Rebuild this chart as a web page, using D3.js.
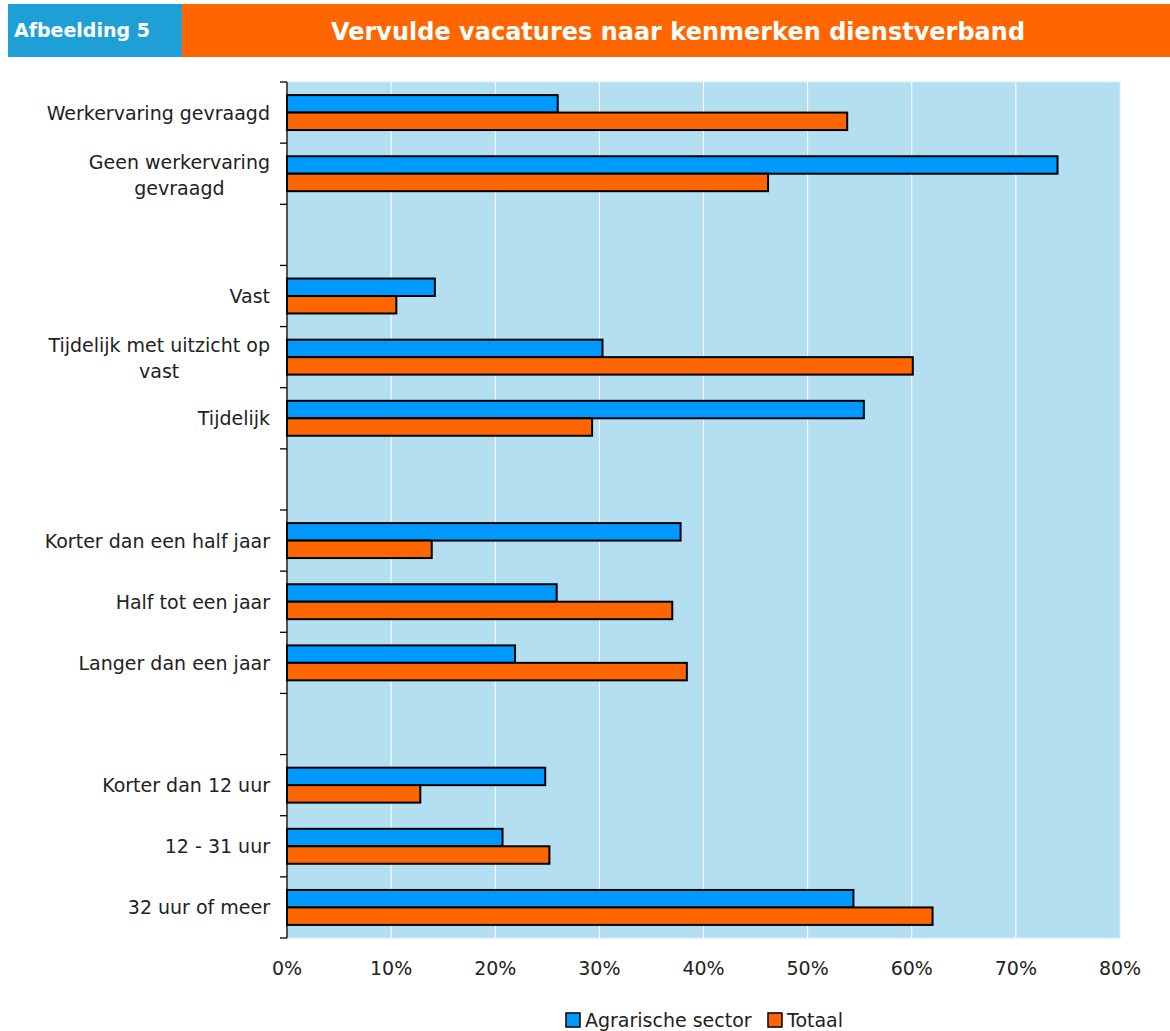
<!DOCTYPE html>
<html>
<head>
<meta charset="utf-8">
<script src="https://cdn.jsdelivr.net/npm/d3@7"></script>
<style>
  body { margin: 0; background: #fff; }
  svg { display: block; font-family: "DejaVu Sans", Verdana, sans-serif; }
</style>
</head>
<body>
<svg id="chart"></svg>
<script>
'use strict';

// rows from top to bottom, empty strings are gaps between groups
var categories = [
  'Werkervaring gevraagd',
  'Geen werkervaring|gevraagd',
  '',
  'Vast',
  'Tijdelijk met uitzicht op|vast',
  'Tijdelijk',
  '',
  'Korter dan een half jaar',
  'Half tot een jaar',
  'Langer dan een jaar',
  '',
  'Korter dan 12 uur',
  '12 - 31 uur',
  '32 uur of meer'
];
var agrarisch = [26.0, 74.0, null, 14.2, 30.3, 55.4, null, 37.8, 25.9, 21.9, null, 24.8, 20.7, 54.4];
var totaal    = [53.8, 46.2, null, 10.5, 60.1, 29.3, null, 13.9, 37.0, 38.4, null, 12.8, 25.2, 62.0];
var seriesNames = ['Agrarische sector', 'Totaal'];
var seriesColors = ['#0099ff', '#ff6600'];
var xTicks = [0, 10, 20, 30, 40, 50, 60, 70, 80];

var width = 1170,
  height = 1031,
  fontSize = '19px',
  margin = {top: 82, left: 287, right: 50, bottom: 93};

var svg = d3.select('#chart').attr('width', width).attr('height', height);

// header band
svg.append('rect').attr('x', 8).attr('y', 4).attr('width', 174).attr('height', 53).attr('fill', '#1e9fd6');
svg.append('rect').attr('x', 182).attr('y', 4).attr('width', width - 182).attr('height', 53).attr('fill', '#ff6600');
svg.append('text').attr('x', 14).attr('y', 37).attr('fill', '#fff')
  .style('font-size', '19px').style('font-weight', 'bold').text('Afbeelding 5');
svg.append('text').attr('x', 678).attr('y', 40).attr('fill', '#fff').attr('text-anchor', 'middle')
  .style('font-size', '24px').style('font-weight', 'bold').text('Vervulde vacatures naar kenmerken dienstverband');

var x = d3.scaleLinear().domain([0, 80]).range([margin.left, 1120]);
var y = d3.scaleBand().domain(d3.range(categories.length)).range([margin.top, height - margin.bottom]);
var sub = d3.scaleBand().domain([0, 1]).range([0, y.bandwidth()]).paddingOuter(0.75);

// plot background + gridlines
svg.append('rect').attr('x', x(0)).attr('y', margin.top)
  .attr('width', x(80) - x(0)).attr('height', y.range()[1] - margin.top)
  .attr('fill', '#b3dff1').attr('stroke', '#d4ecf7').attr('stroke-width', 1);
svg.append('g').selectAll('line').data(xTicks.slice(1, -1)).join('line')
  .attr('x1', function (d) { return x(d); }).attr('x2', function (d) { return x(d); })
  .attr('y1', margin.top).attr('y2', y.range()[1])
  .attr('stroke', '#fff').attr('stroke-width', 1);

// bars
var rows = categories.map(function (c, i) { return {i: i, vals: [agrarisch[i], totaal[i]]}; })
  .filter(function (r) { return r.vals[0] !== null; });

var g = svg.append('g').selectAll('g').data(rows).join('g')
  .attr('transform', function (r) { return 'translate(0,' + y(r.i) + ')'; });
g.selectAll('rect').data(function (r) { return r.vals; }).join('rect')
  .attr('x', x(0))
  .attr('y', function (d, k) { return sub(k); })
  .attr('width', function (d) { return x(d) - x(0); })
  .attr('height', sub.bandwidth())
  .attr('fill', function (d, k) { return seriesColors[k]; })
  .attr('stroke', '#000').attr('stroke-width', 2);

// y axis with ticks between rows
var yAxis = svg.append('g');
yAxis.append('line').attr('x1', x(0)).attr('x2', x(0))
  .attr('y1', margin.top).attr('y2', y.range()[1]).attr('stroke', '#000').attr('stroke-width', 1.3);
yAxis.selectAll('line.tick').data(d3.range(categories.length + 1)).join('line')
  .attr('class', 'tick')
  .attr('x1', x(0) - 7).attr('x2', x(0))
  .attr('y1', function (i) { return margin.top + i * y.step(); })
  .attr('y2', function (i) { return margin.top + i * y.step(); })
  .attr('stroke', '#000').attr('stroke-width', 1.3);

var labels = svg.append('g').selectAll('text')
  .data(categories.map(function (c, i) { return {i: i, lines: c ? c.split('|') : []}; })
    .filter(function (d) { return d.lines.length; }))
  .join('text')
  .style('font-size', fontSize).attr('fill', '#222');
labels.each(function (d) {
  var t = d3.select(this);
  var cy = y(d.i) + y.bandwidth() / 2;
  if (d.lines.length === 1) {
    t.attr('text-anchor', 'end').attr('x', 270).attr('y', cy + 7).text(d.lines[0]);
  } else {
    t.attr('text-anchor', 'end').attr('x', 270).attr('y', cy - 5).text(d.lines[0]);
    var w = this.getComputedTextLength();
    t.append('tspan').attr('x', 270 - w / 2).attr('text-anchor', 'middle')
      .attr('y', cy + 21).text(d.lines[1]);
  }
});

// x axis labels
svg.append('g').selectAll('text').data(xTicks).join('text')
  .attr('x', function (d) { return x(d); }).attr('y', 975)
  .attr('text-anchor', 'middle').style('font-size', fontSize).attr('fill', '#222')
  .text(function (d) { return d + '%'; });

// legend
var legend = svg.append('g');
var lx = [566, 768];
seriesNames.forEach(function (name, k) {
  legend.append('rect').attr('x', lx[k]).attr('y', 1013).attr('width', 14).attr('height', 14)
    .attr('fill', seriesColors[k]).attr('stroke', '#000').attr('stroke-width', 1.5);
  legend.append('text').attr('x', lx[k] + 19).attr('y', 1027)
    .style('font-size', fontSize).attr('fill', '#222').text(name);
});
</script>
</body>
</html>
